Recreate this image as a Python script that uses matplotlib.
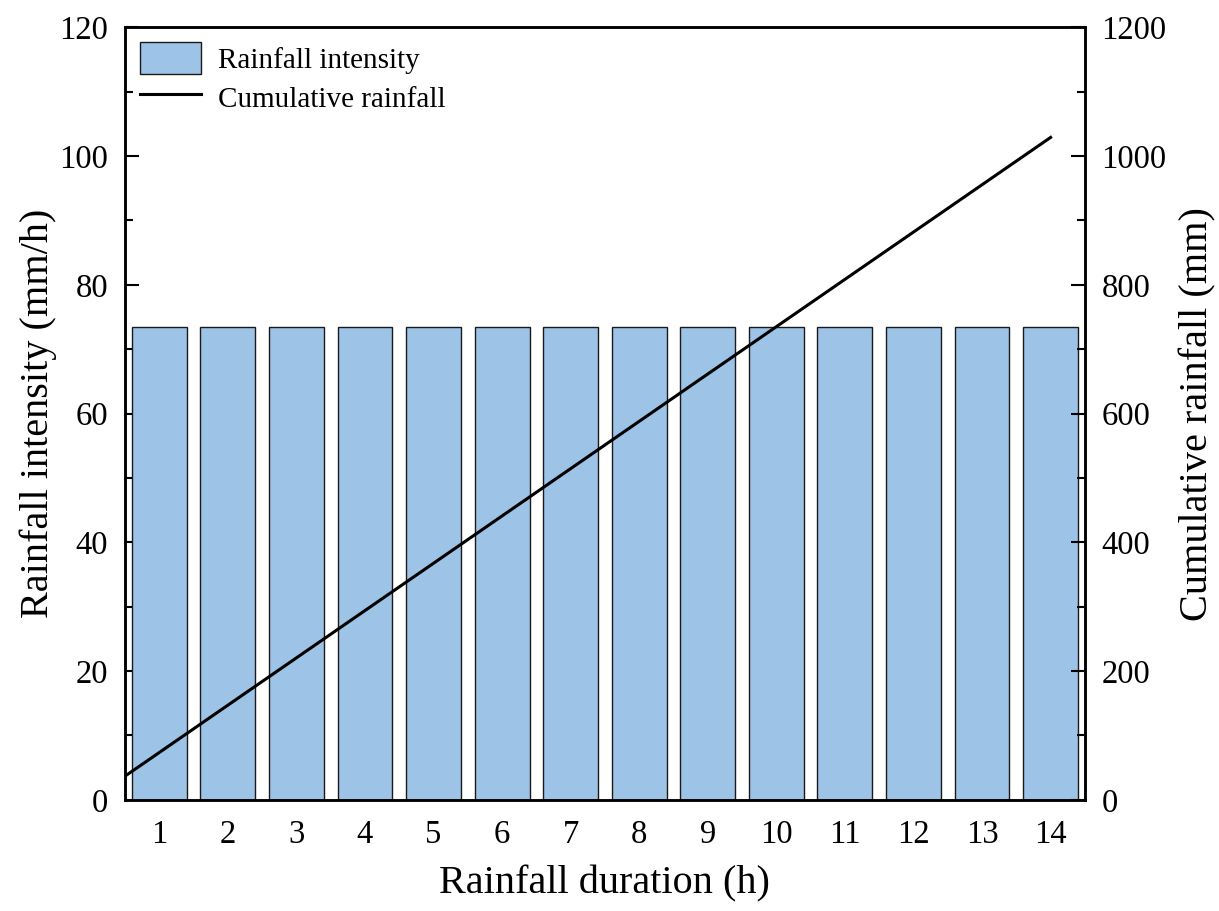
import matplotlib
matplotlib.use("Agg")
import matplotlib.pyplot as plt
from matplotlib.ticker import MultipleLocator

hours = [1, 2, 3, 4, 5, 6, 7, 8, 9, 10, 11, 12, 13, 14]
intensity = [73.5] * 14
cum_time = [0.5, 1, 2, 3, 4, 5, 6, 7, 8, 9, 10, 11, 12, 13, 14]
cum_rain = [36.75, 73.5, 147, 220.5, 294, 367.5, 441, 514.5, 588, 661.5, 735, 808.5, 882, 955.5, 1029]

plt.rcParams['font.family'] = ['Liberation Serif', 'DejaVu Serif']

fig = plt.figure(figsize=(12.19, 9.11), dpi=100)
ax = fig.add_axes([0.1025, 0.122, 0.7875, 0.848])
ax2 = ax.twinx()

bars = ax.bar(hours, intensity, width=0.8, color='#9dc3e6', edgecolor='#1a1a1a', linewidth=1.0,
              label='Rainfall intensity', zorder=2)
line, = ax2.plot(cum_time, cum_rain, color='black', linewidth=2.2, label='Cumulative rainfall')

ax.set_xlim(0.5, 14.5)
ax.set_ylim(0, 120)
ax2.set_ylim(0, 1200)
ax.set_xticks(hours)
ax.yaxis.set_major_locator(MultipleLocator(20))
ax.yaxis.set_minor_locator(MultipleLocator(10))
ax2.yaxis.set_major_locator(MultipleLocator(200))
ax2.yaxis.set_minor_locator(MultipleLocator(100))

ax.tick_params(axis='both', which='major', direction='in', length=10, width=1.5, labelsize=23.5)
ax.tick_params(axis='x', which='major', pad=14)
ax.tick_params(axis='y', which='major', pad=12)
ax.tick_params(axis='y', which='minor', direction='in', length=6, width=1.5)
ax.tick_params(axis='x', which='minor', bottom=False)
ax2.tick_params(axis='y', which='major', direction='in', length=10, width=1.5, labelsize=23.5, pad=12)
ax2.tick_params(axis='y', which='minor', direction='in', length=6, width=1.5)

for a in (ax, ax2):
    for s in a.spines.values():
        s.set_linewidth(1.8)

ax.set_xlabel('Rainfall duration (h)', fontsize=29, labelpad=11)
ax.set_ylabel('Rainfall intensity (mm/h)', fontsize=29, labelpad=2)
ax2.set_ylabel('Cumulative rainfall (mm)', fontsize=29, labelpad=9)

ax2.legend([bars, line], ['Rainfall intensity', 'Cumulative rainfall'], loc='upper left',
           frameon=False, fontsize=21, handlelength=2.1, handleheight=1.3,
           borderaxespad=0.3, borderpad=0.2, handletextpad=0.6, labelspacing=0.25)

fig.savefig('out.png', dpi=100)
